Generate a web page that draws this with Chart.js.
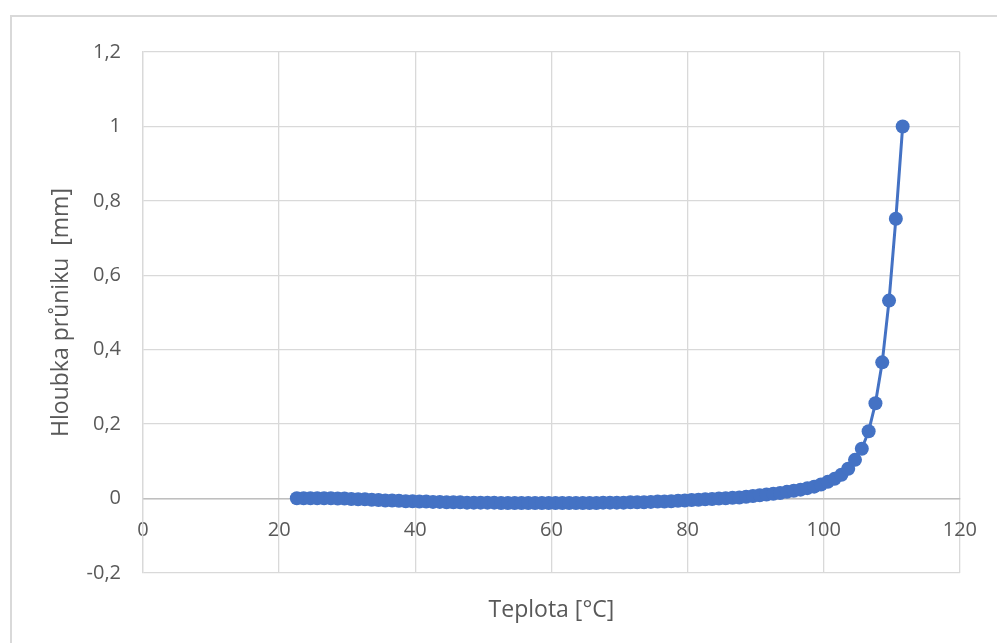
<!DOCTYPE html>
<html>
<head>
<meta charset="utf-8">
<script src="https://cdn.jsdelivr.net/npm/chart.js@4.4.1/dist/chart.umd.min.js"></script>
<style>
  html, body { margin: 0; padding: 0; background: #fff; overflow: hidden; }
  #frame { position: absolute; left: 10px; top: 15px; width: 1000px; height: 650px; border: 2px solid #d9d9d9; box-sizing: border-box; }
  #wrap { position: absolute; left: 0; top: 0; width: 997px; height: 643px; }
</style>
</head>
<body>
<div id="frame"></div>
<div id="wrap"><canvas id="chart"></canvas></div>
<script>
// Data
const teplota = [
  22.6, 23.6, 24.6, 25.6, 26.6, 27.6, 28.6, 29.6, 30.6, 31.6,
  32.6, 33.6, 34.6, 35.6, 36.6, 37.6, 38.6, 39.6, 40.6, 41.6,
  42.6, 43.6, 44.6, 45.6, 46.6, 47.6, 48.6, 49.6, 50.6, 51.6,
  52.6, 53.6, 54.6, 55.6, 56.6, 57.6, 58.6, 59.6, 60.6, 61.6,
  62.6, 63.6, 64.6, 65.6, 66.6, 67.6, 68.6, 69.6, 70.6, 71.6,
  72.6, 73.6, 74.6, 75.6, 76.6, 77.6, 78.6, 79.6, 80.6, 81.6,
  82.6, 83.6, 84.6, 85.6, 86.6, 87.6, 88.6, 89.6, 90.6, 91.6,
  92.6, 93.6, 94.6, 95.6, 96.6, 97.6, 98.6, 99.6, 100.6, 101.6,
  102.6, 103.6, 104.6, 105.6, 106.6, 107.6, 108.6, 109.6, 110.6, 111.6
];
const hloubka = [
  0.001, 0.001, 0.001, 0.001, 0.001, 0.001, 0.000, 0.000, -0.001, -0.002,
  -0.002, -0.003, -0.004, -0.005, -0.005, -0.006, -0.007, -0.007, -0.008, -0.008,
  -0.009, -0.009, -0.010, -0.010, -0.010, -0.011, -0.011, -0.011, -0.011, -0.011,
  -0.012, -0.012, -0.012, -0.012, -0.012, -0.012, -0.012, -0.012, -0.012, -0.012,
  -0.012, -0.012, -0.012, -0.012, -0.012, -0.011, -0.011, -0.011, -0.011, -0.010,
  -0.010, -0.010, -0.009, -0.008, -0.008, -0.007, -0.006, -0.005, -0.004, -0.003,
  -0.002, -0.001, 0.000, 0.001, 0.002, 0.003, 0.005, 0.007, 0.009, 0.011,
  0.013, 0.015, 0.018, 0.021, 0.024, 0.028, 0.032, 0.038, 0.045, 0.053,
  0.064, 0.080, 0.104, 0.134, 0.181, 0.256, 0.366, 0.532, 0.752, 1.000
];
const xTicks = [0, 20, 40, 60, 80, 100, 120];
const yTicks = [-0.2, 0, 0.2, 0.4, 0.6, 0.8, 1, 1.2];

const textColor = '#595959';
const gridColor = '#d9d9d9';
const tickFont = { family: "'Open Sans', 'Liberation Sans', sans-serif", size: 20 };
const titleFont = { family: "'Open Sans', 'Liberation Sans', sans-serif", size: 23 };

const points = teplota.map((t, i) => ({ x: t, y: hloubka[i] }));

new Chart(document.getElementById('chart'), {
  type: 'line',
  data: {
    datasets: [{
      data: points,
      borderColor: '#4472C4',
      backgroundColor: '#4472C4',
      borderWidth: 3,
      pointRadius: 7,
      pointBorderWidth: 0,
      pointBackgroundColor: '#4472C4',
      tension: 0
    }]
  },
  options: {
    responsive: true,
    maintainAspectRatio: false,
    animation: false,
    layout: { padding: { left: 0, top: 52, right: 37, bottom: 0 } },
    plugins: { legend: { display: false }, tooltip: { enabled: false } },
    scales: {
      x: {
        type: 'linear',
        position: { y: 0 },
        min: 0, max: 120,
        afterBuildTicks: s => { s.ticks = xTicks.map(v => ({ value: v })); },
        grid: { color: gridColor, lineWidth: 1.3, drawTicks: false },
        border: { color: '#bfbfbf', width: 1.5 },
        ticks: { color: textColor, font: tickFont, padding: 20, maxRotation: 0 }
      },
      // bottom axis only carries the title
      xt: {
        type: 'linear',
        position: 'bottom',
        min: 0, max: 120,
        grid: { display: false, drawTicks: false },
        border: { display: false },
        ticks: { display: false },
        afterFit: s => { s.height = 70; },
        title: { display: true, text: 'Teplota [°C]', color: textColor, font: titleFont, padding: { top: 0, bottom: 19 } }
      },
      y: {
        min: -0.2, max: 1.2,
        afterBuildTicks: s => { s.ticks = yTicks.map(v => ({ value: v })); },
        afterFit: s => { s.width = 143; },
        grid: { color: gridColor, lineWidth: 1.3, drawTicks: false },
        border: { color: gridColor, width: 1.3 },
        ticks: {
          color: textColor, font: tickFont, padding: 22,
          callback: v => String(Math.round(v * 10) / 10).replace('.', ',')
        },
        title: { display: true, text: 'Hloubka průniku  [mm]', color: textColor, font: titleFont, padding: { top: 48, bottom: 0 } }
      }
    }
  }
});
</script>
</body>
</html>
